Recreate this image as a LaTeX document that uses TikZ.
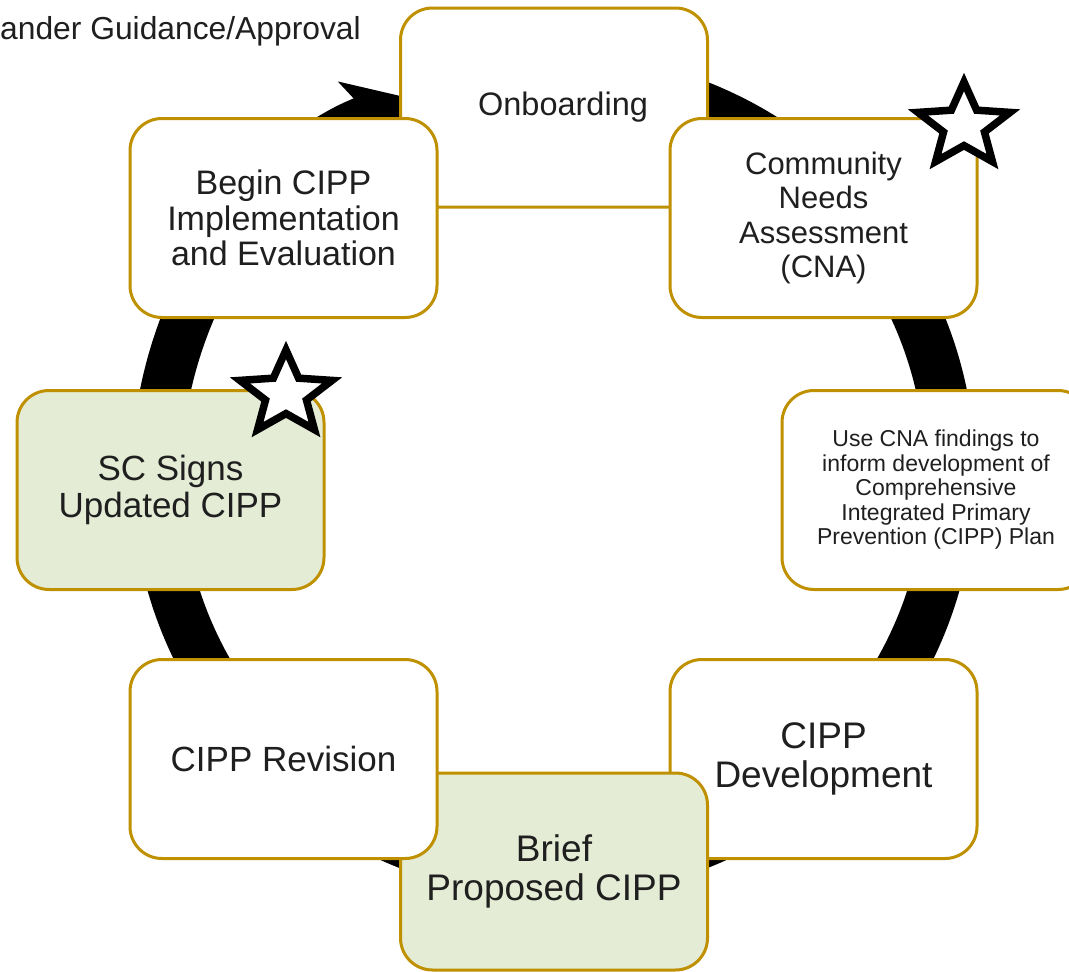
\documentclass[tikz,border=0pt]{standalone}
\usepackage{fontspec}
\setmainfont{Liberation Sans}
\usetikzlibrary{arrows.meta,shapes.geometric}
\definecolor{gold}{HTML}{BF9000}
\definecolor{leaf}{HTML}{E4ECD5}
\definecolor{ink}{HTML}{1F1F1F}
\newcommand{\fs}[2]{\fontsize{#1}{#2}\selectfont}
\tikzset{
  stage/.style={draw=gold, line width=3pt, fill=white, rounded corners=32pt, minimum width=307pt, minimum height=199pt, inner sep=0pt, align=center, text=ink},
  signed/.style={stage, fill=leaf},
  ring/.style={line width=50pt, -{Stealth[length=72pt, width=92pt, inset=20pt, line width=0pt]}},
  badge/.style={star, star points=5, star point ratio=2.25, minimum size=88pt, inner sep=0pt, draw=black, fill=white, line width=7.5pt, transform shape}
}
\begin{document}
\begin{tikzpicture}[x=1pt, y=-1pt]
                        \useasboundingbox (0,0) rectangle (1069,972);
                        \clip (0,0) rectangle (1069,972);
                        \coordinate (hub) at (553.5,475);
                        \draw[ring] (hub) ++(-90:397) arc[start angle=-90, end angle=250.5, radius=397];
                        \node[stage, font=\fs{32.5}{36}] (onboarding) at (554,107.5) {\hspace*{18pt}Onboarding};
                        \node[stage, font=\fs{34}{35.5}] (begin) at (283.5,218) {Begin CIPP\\Implementation\\and Evaluation};
                        \node[stage, font=\fs{31}{34.5}] (cna) at (823.5,218) {Community\\Needs\\Assessment\\(CNA)};
                        \node[signed, font=\fs{35}{37}] (signs) at (170.5,490) {SC Signs\\Updated CIPP};
                        \node[stage, minimum width=308pt, font=\fs{23}{24.5}] (findings) at (936,490) {Use CNA findings to\\inform development of\\Comprehensive\\Integrated Primary\\Prevention (CIPP) Plan};
                        \node[stage, font=\fs{37}{39}] (develop) at (823.5,759) {CIPP\\Development};
                        \node[signed, minimum height=197pt, font=\fs{37}{39}] (brief) at (554,871.5) {Brief\\Proposed CIPP};
                        \node[stage, font=\fs{35}{37}] (revision) at (283.5,759) {CIPP Revision};
                        \begin{scope}[shift={(964,126)}, xscale=1.1]
                            \node[badge] (cnastar) at (0,0) {};
                        \end{scope}
                        \begin{scope}[shift={(286,394)}, xscale=1.1]
                            \node[badge] (signstar) at (0,0) {};
                        \end{scope}
                        \node[anchor=base east, inner sep=0pt, text=ink, font=\fs{31.8}{36}] (approval) at (361,39) {ander Guidance/Approval};
                    \end{tikzpicture}
\end{document}
